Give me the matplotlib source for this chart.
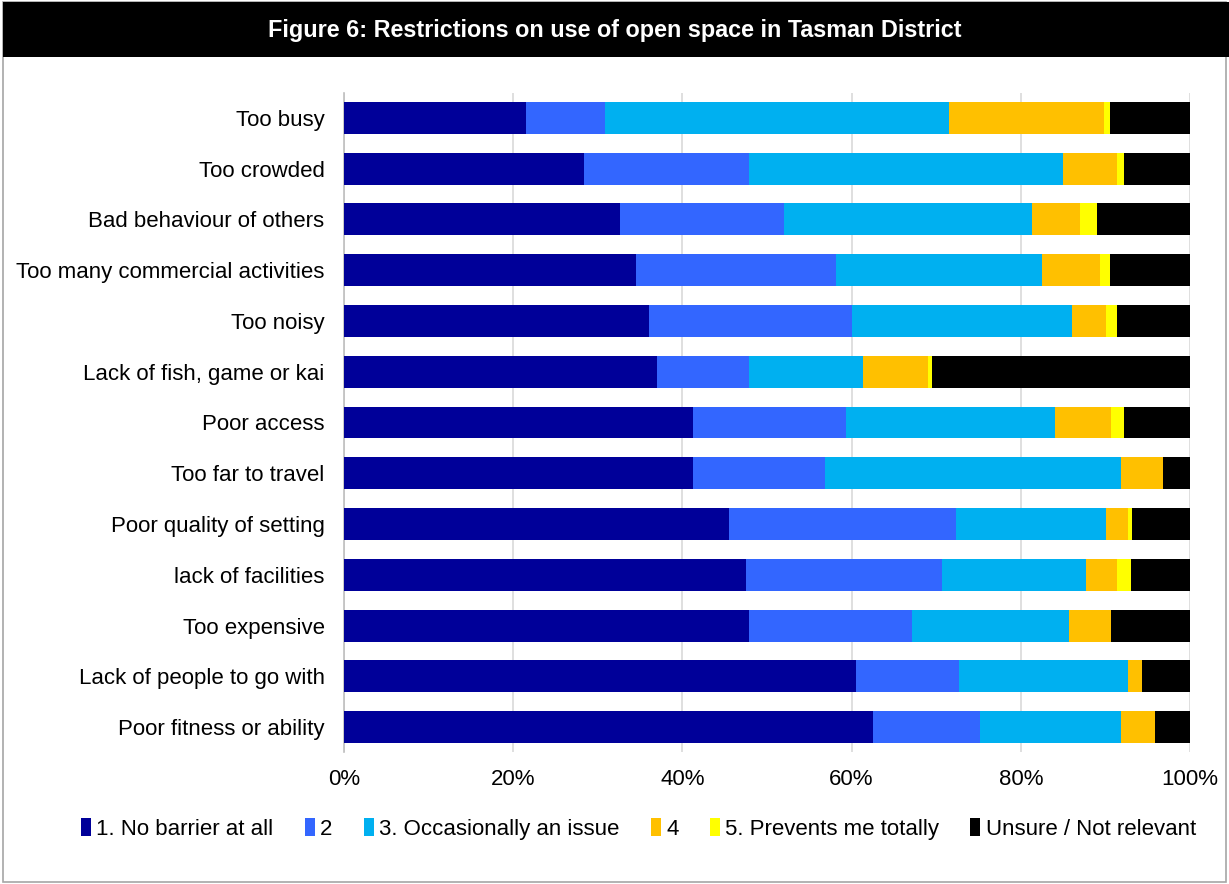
import numpy as np
import matplotlib.pyplot as plt
from matplotlib.patches import Rectangle

plt.rcParams['font.family'] = ['Liberation Sans', 'DejaVu Sans']

categories = ['Too busy', 'Too crowded', 'Bad behaviour of others',
              'Too many commercial activities', 'Too noisy',
              'Lack of fish, game or kai', 'Poor access', 'Too far to travel',
              'Poor quality of setting', 'lack of facilities', 'Too expensive',
              'Lack of people to go with', 'Poor fitness or ability']

no_barrier = [21.5, 28.4, 32.6, 34.5, 36.1, 37.0, 41.3, 41.3, 45.5, 47.5, 47.9, 60.5, 62.5]
level2     = [9.4, 19.5, 19.4, 23.6, 24.0, 10.9, 18.0, 15.6, 26.8, 23.2, 19.2, 12.2, 12.7]
occasional = [40.6, 37.1, 29.3, 24.4, 26.0, 13.4, 24.8, 34.9, 17.8, 17.0, 18.6, 20.0, 16.6]
level4     = [18.3, 6.4, 5.7, 6.9, 4.0, 7.7, 6.6, 5.0, 2.6, 3.7, 5.0, 1.6, 4.1]
prevents   = [0.8, 0.8, 2.0, 1.2, 1.3, 0.5, 1.5, 0.0, 0.4, 1.6, 0.0, 0.0, 0.0]
unsure     = [9.4, 7.8, 11.0, 9.4, 8.6, 30.5, 7.8, 3.2, 6.9, 7.0, 9.3, 5.7, 4.1]

series_names = ['1. No barrier at all', '2', '3. Occasionally an issue', '4',
                '5. Prevents me totally', 'Unsure / Not relevant']
series_colors = ['#000099', '#3366FF', '#00B0F0', '#FFC000', '#FFFF00', '#000000']
xticks = [0, 20, 40, 60, 80, 100]

fig = plt.figure(figsize=(12.29, 8.84), dpi=100)

# outer frame and black title banner
fig.patches.append(Rectangle((3 / 1229, 2 / 884), 1223 / 1229, 880 / 884,
                             transform=fig.transFigure, fill=False,
                             edgecolor='#a6a6a6', linewidth=1.2))
fig.patches.append(Rectangle((3 / 1229, 1 - 57 / 884), 1226 / 1229, 55 / 884,
                             transform=fig.transFigure, facecolor='black',
                             edgecolor='none'))
fig.text(0.5, 1 - 30 / 884, 'Figure 6: Restrictions on use of open space in Tasman District',
         color='white', fontsize=16.8, fontweight='bold', ha='center', va='center')

ax = fig.add_axes([344 / 1229, 1 - 752.4 / 884, 846 / 1229, 659.8 / 884])

data = [no_barrier, level2, occasional, level4, prevents, unsure]
y = np.arange(len(categories))
left = np.zeros(len(categories))
for vals, name, col in zip(data, series_names, series_colors):
    vals = np.array(vals)
    ax.barh(y, vals, left=left, height=0.63, color=col, label=name, zorder=3)
    left += vals

ax.set_ylim(len(categories) - 0.5, -0.5)
ax.set_xlim(0, 100)
ax.set_yticks(y)
ax.set_yticklabels(categories, fontsize=16)
ax.set_xticks(xticks)
ax.set_xticklabels([f'{t}%' for t in xticks], fontsize=16)
ax.tick_params(axis='y', length=0, pad=14)
ax.tick_params(axis='x', length=0, pad=12)
ax.grid(axis='x', color='#d9d9d9', linewidth=1.2, zorder=0)
for s in ['top', 'right', 'bottom']:
    ax.spines[s].set_visible(False)
ax.spines['left'].set_color('#bfbfbf')
ax.spines['left'].set_linewidth(1.2)

fig.legend(loc='center', bbox_to_anchor=(0.5195, 1 - 829 / 884), ncol=6,
           frameon=False, fontsize=16, handlelength=0.45, handleheight=0.85,
           handletextpad=0.25, columnspacing=1.4, borderaxespad=0)

fig.savefig('out.png', dpi=100)
